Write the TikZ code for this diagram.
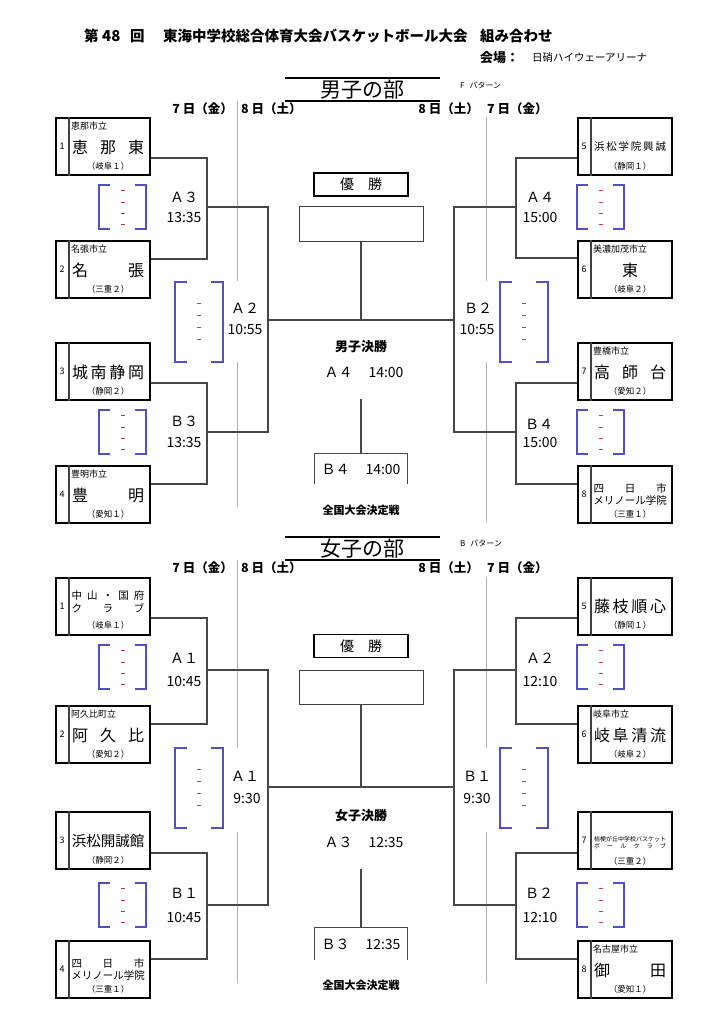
\documentclass[tikz,border=0pt]{standalone}
\usepackage{fontspec}
\setmainfont{Noto Sans CJK JP}
\usetikzlibrary{calc}
\definecolor{brblue}{RGB}{80,80,205}
\definecolor{brred}{RGB}{195,60,60}
\newcommand\fz[1]{\fontsize{#1}{#1}\selectfont}
\newcommand\spr[2]{\makebox[#1pt][s]{#2}}
% team box: name, x-left, y-top, number
\newcommand\team[4]{%
  \node[teambox, anchor=north west] (#1) at (#2,#3) {};
  \draw[divider] ($(#1.north west)+(14,0)$) -- ($(#1.south west)+(14,0)$);
  \node[inner sep=0pt, font=\fz{9}] (#1-n) at ($(#1.west)+(7,0)$) {#4};}
\newcommand\tpre[2]{%
  \node[inner sep=0pt, anchor=west, font=\fz{9}] (#1-p) at ($(#1.north west)+(16,9)$) {#2};}
\newcommand\ttxt[5]{%
  \node[inner sep=0pt, font=\fz{#4}] (#1-#2) at ($(#1.north west)+(53,#3)$) {#5};}
% small blue bracket
\newcommand\sbr[3]{%
  \coordinate (#1a) at (#2,#3); \coordinate (#1b) at ($(#1a)+(47,44)$);
  \draw[bluebr] ($(#1a)+(11,0)$) -- (#1a) -- (#1a|-#1b) -- ($(#1a|-#1b)+(11,0)$);
  \draw[bluebr] ($(#1b|-#1a)+(-11,0)$) -- (#1b|-#1a) -- (#1b) -- ($(#1b)+(-11,0)$);
  \foreach \d in {5,17,28,39} \draw[reddash] ($(#1a)+(21.5,\d)$) -- ++(4,0);}
% big blue bracket
\newcommand\bbr[3]{%
  \coordinate (#1a) at (#2,#3); \coordinate (#1b) at ($(#1a)+(48,80)$);
  \draw[bluebr] ($(#1a)+(12,0)$) -- (#1a) -- (#1a|-#1b) -- ($(#1a|-#1b)+(12,0)$);
  \draw[bluebr] ($(#1b|-#1a)+(-12,0)$) -- (#1b|-#1a) -- (#1b) -- ($(#1b)+(-12,0)$);
  \foreach \d in {21,33,45,57} \draw[reddash] ($(#1a)+(22,\d)$) -- ++(4,0);}
\begin{document}
\begin{tikzpicture}[x=1pt,y=-1pt,
  conn/.style={draw=black!72, line width=1.1pt},
  teambox/.style={draw=black, line width=1.9pt, minimum width=94pt, minimum height=57pt, inner sep=0pt},
  divider/.style={draw=black!75, line width=1.3pt},
  bluebr/.style={draw=brblue, line width=1.1pt},
  reddash/.style={draw=brred, line width=0.9pt},
  graybar/.style={draw=black!30, line width=0.8pt},
  hdr/.style={draw=black, line width=2pt},
  lbl/.style={inner sep=0pt, font=\fz{14}},
  date/.style={inner sep=0pt, font=\bfseries\fz{12.5}},
  winbox/.style={draw=black, line width=1.8pt, minimum width=94pt, minimum height=23pt, inner sep=0pt, font=\fz{14}},
  champbox/.style={draw=black!75, line width=1pt, minimum width=124pt, minimum height=34pt, inner sep=0pt},
  thirdbox/.style={inner sep=0pt, minimum width=92pt, minimum height=30pt, font=\fz{14}}
]
\useasboundingbox (0,0) rectangle (723,1024);
\fill[white] (0,0) rectangle (723,1024);

% ---------- title ----------
\node[inner sep=0pt, anchor=west, font=\bfseries\fz{14.5}] (t1) at (84,36) {第};
\node[inner sep=0pt, anchor=west, font=\bfseries\fz{15}] (t2) at (102,36) {48};
\node[inner sep=0pt, anchor=west, font=\bfseries\fz{14.5}] (t3) at (130,36) {回};
\node[inner sep=0pt, anchor=west, font=\bfseries\fz{14.5}] (t4) at (163,36) {東海中学校総合体育大会バスケットボール大会};
\node[inner sep=0pt, anchor=west, font=\bfseries\fz{14.5}] (t5) at (480,36) {組み合わせ};
\node[inner sep=0pt, anchor=west, font=\bfseries\fz{13}] (v1) at (480,58) {会場：};
\node[inner sep=0pt, anchor=west, font=\fz{10.5}] (v2) at (532,58) {日硝ハイウェーアリーナ};

% ================= MEN =================
\draw[hdr] (285,78) -- (440,78);
\node[inner sep=0pt, font=\fz{21}] (mh) at (362,90) {男子の部};
\draw[hdr] (285,101) -- (440,101);
\node[inner sep=0pt, anchor=west, font=\fz{8}] (mpat) at (460,85) {F\hspace{5pt}パターン};
\node[date, anchor=east] (md1) at (233,109) {7 日（金）};
\node[date, anchor=west] (md2) at (241,109) {8 日（土）};
\node[date, anchor=east] (md3) at (479,109) {8 日（土）};
\node[date, anchor=west] (md4) at (487,109) {7 日（金）};
\draw[graybar] (237,101) -- (237,281);
\draw[graybar] (237,362) -- (237,507);
\draw[graybar] (486,117) -- (486,281);
\draw[graybar] (486,362) -- (486,522);

% teams
\team{m1}{55}{117}{1}
\tpre{m1}{恵那市立}
\ttxt{m1}{a}{30}{16}{\spr{72}{恵\hfill 那\hfill 東}}
\ttxt{m1}{b}{49}{8.5}{（岐阜１）}
\team{m2}{55}{240}{2}
\tpre{m2}{名張市立}
\ttxt{m2}{a}{30}{16}{\spr{72}{名\hfill 張}}
\ttxt{m2}{b}{49}{8.5}{（三重２）}
\team{m3}{55}{342}{3}
\ttxt{m3}{a}{30}{16}{\spr{72}{城\hfill 南\hfill 静\hfill 岡}}
\ttxt{m3}{b}{49}{8.5}{（静岡２）}
\team{m4}{55}{465}{4}
\tpre{m4}{豊明市立}
\ttxt{m4}{a}{30}{16}{\spr{72}{豊\hfill 明}}
\ttxt{m4}{b}{49}{8.5}{（愛知１）}
\team{m5}{577}{117}{5}
\ttxt{m5}{a}{29}{10.5}{\spr{72}{浜\hfill 松\hfill 学\hfill 院\hfill 興\hfill 誠}}
\ttxt{m5}{b}{49}{8.5}{（静岡１）}
\team{m6}{577}{240}{6}
\tpre{m6}{美濃加茂市立}
\ttxt{m6}{a}{30}{16}{東}
\ttxt{m6}{b}{49}{8.5}{（岐阜２）}
\team{m7}{577}{342}{7}
\tpre{m7}{豊橋市立}
\ttxt{m7}{a}{30}{16}{\spr{72}{高\hfill 師\hfill 台}}
\ttxt{m7}{b}{49}{8.5}{（愛知２）}
\team{m8}{577}{465}{8}
\ttxt{m8}{a}{23}{10.5}{\spr{73}{四\hfill 日\hfill 市}}
\ttxt{m8}{c}{35}{10.5}{メリノール学院}
\ttxt{m8}{b}{49}{8.5}{（三重１）}

% brackets
\sbr{ms1}{99}{185}
\sbr{ms2}{99}{410}
\sbr{ms3}{577}{185}
\sbr{ms4}{577}{410}
\bbr{mb1}{175}{282}
\bbr{mb2}{500}{282}

% connectors
\coordinate (m1o) at ($(m1.north east)+(0,41)$);
\coordinate (m2o) at ($(m2.north east)+(0,19)$);
\coordinate (m3o) at ($(m3.north east)+(0,41)$);
\coordinate (m4o) at ($(m4.north east)+(0,19)$);
\coordinate (m5o) at ($(m5.north west)+(0,41)$);
\coordinate (m6o) at ($(m6.north west)+(0,18)$);
\coordinate (m7o) at ($(m7.north west)+(0,41)$);
\coordinate (m8o) at ($(m8.north west)+(0,19)$);
\coordinate (mjA3) at (207,207);
\coordinate (mjB3) at (207,432);
\coordinate (mjA2) at (268,320);
\coordinate (mjA4) at (516,207);
\coordinate (mjB4) at (516,432);
\coordinate (mjB2) at (454,320);
\draw[conn] (m1o) -| (mjA3) |- (m2o);
\draw[conn] (m3o) -| (mjB3) |- (m4o);
\draw[conn] (mjA3) -| (mjA2) |- (mjB3);
\draw[conn] (m5o) -| (mjA4) |- (m6o);
\draw[conn] (m7o) -| (mjB4) |- (m8o);
\draw[conn] (mjA4) -| (mjB2) |- (mjB4);
\draw[conn] (mjA2) -- (mjB2);

% labels
\node[lbl] (mlA3) at (184,197) {Ａ３};
\node[lbl] (mtA3) at (184,218) {13:35};
\node[lbl] (mlA2) at (245,308) {Ａ２};
\node[lbl] (mtA2) at (245,330) {10:55};
\node[lbl] (mlB3) at (184,421) {Ｂ３};
\node[lbl] (mtB3) at (184,443) {13:35};
\node[lbl] (mlA4) at (540,197) {Ａ４};
\node[lbl] (mtA4) at (540,218) {15:00};
\node[lbl] (mlB2) at (478,308) {Ｂ２};
\node[lbl] (mtB2) at (477,330) {10:55};
\node[lbl] (mlB4) at (539,424) {Ｂ４};
\node[lbl] (mtB4) at (540,443) {15:00};

% center
\node[winbox] (mwin) at (361,184.5) {優\hspace{14pt}勝};
\node[champbox] (mchamp) at (361,224) {};
\draw[conn] (mchamp.south) -- (mchamp.south |- mjA2);
\node[inner sep=0pt, font=\bfseries\fz{13}] (mfin) at (361,347) {男子決勝};
\node[lbl] (mfint) at (364,372) {Ａ４\hspace{16pt}14:00};
\coordinate (m3top) at (361,399);
\node[thirdbox] (m3rd) at (361,469) {Ｂ４\hspace{16pt}14:00};
\draw[conn] (m3top) -- (m3rd.north);
\draw[conn] (m3rd.south west) |- (m3rd.north east) -- (m3rd.south east);
\node[inner sep=0pt, font=\bfseries\fz{11}] (mnat) at (361,510) {全国大会決定戦};

% ================= WOMEN =================
\draw[hdr] (285,537) -- (440,537);
\node[inner sep=0pt, font=\fz{21}] (wh) at (362,549) {女子の部};
\draw[hdr] (285,560) -- (440,560);
\node[inner sep=0pt, anchor=west, font=\fz{8}] (wpat) at (460,543) {B\hspace{5pt}パターン};
\node[date, anchor=east] (wd1) at (233,568) {7 日（金）};
\node[date, anchor=west] (wd2) at (241,568) {8 日（土）};
\node[date, anchor=east] (wd3) at (479,568) {8 日（土）};
\node[date, anchor=west] (wd4) at (487,568) {7 日（金）};
\draw[graybar] (237,560) -- (237,748);
\draw[graybar] (237,832) -- (237,983);
\draw[graybar] (486,577) -- (486,748);
\draw[graybar] (486,832) -- (486,983);

\team{w1}{55}{577}{1}
\ttxt{w1}{a}{19}{10.5}{\spr{73}{中\hfill 山\hfill ・\hfill 国\hfill 府}}
\ttxt{w1}{c}{31}{10.5}{\spr{73}{ク\hfill ラ\hfill ブ}}
\ttxt{w1}{b}{48}{8.5}{（岐阜１）}
\team{w2}{55}{705}{2}
\tpre{w2}{阿久比町立}
\ttxt{w2}{a}{30}{16}{\spr{72}{阿\hfill 久\hfill 比}}
\ttxt{w2}{b}{49}{8.5}{（愛知２）}
\team{w3}{55}{811}{3}
\ttxt{w3}{a}{30}{14.5}{浜松開誠館}
\ttxt{w3}{b}{49}{8.5}{（静岡２）}
\team{w4}{55}{940}{4}
\ttxt{w4}{a}{23}{10.5}{\spr{73}{四\hfill 日\hfill 市}}
\ttxt{w4}{c}{35}{10.5}{メリノール学院}
\ttxt{w4}{b}{49}{8.5}{（三重１）}
\team{w5}{577}{577}{5}
\ttxt{w5}{a}{29}{16}{\spr{72}{藤\hfill 枝\hfill 順\hfill 心}}
\ttxt{w5}{b}{48}{8.5}{（静岡１）}
\team{w6}{577}{705}{6}
\tpre{w6}{岐阜市立}
\ttxt{w6}{a}{30}{16}{\spr{72}{岐\hfill 阜\hfill 清\hfill 流}}
\ttxt{w6}{b}{49}{8.5}{（岐阜２）}
\team{w7}{577}{811}{7}
\ttxt{w7}{a}{28}{6}{桔梗が丘中学校バスケット}
\ttxt{w7}{c}{35}{6}{\spr{72}{ボ\hfill ー\hfill ル\hfill ク\hfill ラ\hfill ブ}}
\ttxt{w7}{b}{50}{8.5}{（三重２）}
\team{w8}{577}{940}{8}
\tpre{w8}{名古屋市立}
\ttxt{w8}{a}{30}{16}{\spr{72}{御\hfill 田}}
\ttxt{w8}{b}{49}{8.5}{（愛知１）}

\sbr{ws1}{99}{645}
\sbr{ws2}{99}{883}
\sbr{ws3}{577}{645}
\sbr{ws4}{577}{883}
\bbr{wb1}{175}{748}
\bbr{wb2}{500}{748}

\coordinate (w1o) at ($(w1.north east)+(0,41)$);
\coordinate (w2o) at ($(w2.north east)+(0,19)$);
\coordinate (w3o) at ($(w3.north east)+(0,42)$);
\coordinate (w4o) at ($(w4.north east)+(0,19)$);
\coordinate (w5o) at ($(w5.north west)+(0,41)$);
\coordinate (w6o) at ($(w6.north west)+(0,19)$);
\coordinate (w7o) at ($(w7.north west)+(0,42)$);
\coordinate (w8o) at ($(w8.north west)+(0,19)$);
\coordinate (wjA1a) at (207,670);
\coordinate (wjB1a) at (207,905);
\coordinate (wjA1) at (268,787);
\coordinate (wjA2) at (516,670);
\coordinate (wjB2) at (516,905);
\coordinate (wjB1) at (454,787);
\draw[conn] (w1o) -| (wjA1a) |- (w2o);
\draw[conn] (w3o) -| (wjB1a) |- (w4o);
\draw[conn] (wjA1a) -| (wjA1) |- (wjB1a);
\draw[conn] (w5o) -| (wjA2) |- (w6o);
\draw[conn] (w7o) -| (wjB2) |- (w8o);
\draw[conn] (wjA2) -| (wjB1) |- (wjB2);
\draw[conn] (wjA1) -- (wjB1);

\node[lbl] (wlA1a) at (184,658) {Ａ１};
\node[lbl] (wtA1a) at (184,682) {10:45};
\node[lbl] (wlA1) at (245,776) {Ａ１};
\node[lbl] (wtA1) at (247,798) {9:30};
\node[lbl] (wlB1a) at (184,893) {Ｂ１};
\node[lbl] (wtB1a) at (184,917) {10:45};
\node[lbl] (wlA2) at (540,658) {Ａ２};
\node[lbl] (wtA2) at (540,682) {12:10};
\node[lbl] (wlB1) at (477,776) {Ｂ１};
\node[lbl] (wtB1) at (477,798) {9:30};
\node[lbl] (wlB2) at (539,893) {Ｂ２};
\node[lbl] (wtB2) at (540,917) {12:10};

\node[winbox] (wwin) at (361,646) {優\hspace{14pt}勝};
\node[champbox] (wchamp) at (361,687.5) {};
\draw[conn] (wchamp.south) -- (wchamp.south |- wjA1);
\node[inner sep=0pt, font=\bfseries\fz{13}] (wfin) at (361,816) {女子決勝};
\node[lbl] (wfint) at (364,842) {Ａ３\hspace{16pt}12:35};
\coordinate (w3top) at (361,869);
\node[thirdbox, minimum height=32pt] (w3rd) at (361,944) {Ｂ３\hspace{16pt}12:35};
\draw[conn] (w3top) -- (w3rd.north);
\draw[conn] (w3rd.south west) |- (w3rd.north east) -- (w3rd.south east);
\node[inner sep=0pt, font=\bfseries\fz{11}] (wnat) at (361,985) {全国大会決定戦};
\end{tikzpicture}
\end{document}
